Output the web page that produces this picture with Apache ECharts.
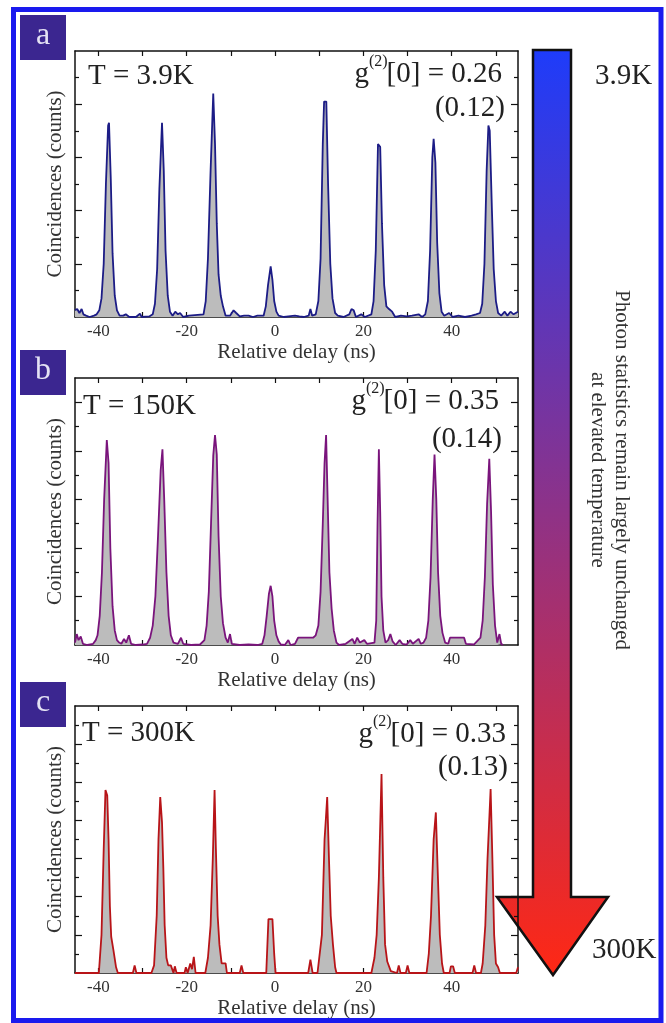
<!DOCTYPE html>
<html>
<head>
<meta charset="utf-8">
<script src="https://cdn.jsdelivr.net/npm/echarts@6/dist/echarts.min.js"></script>
<style>
  html, body { margin: 0; padding: 0; background: #fff; }
  #chart { width: 666px; height: 1023px; }
</style>
</head>
<body>
<div id="chart"></div>
<script>
// ---- data (delay in ns, coincidences in arbitrary tick units) ----
const delayA = [-45.3,-44.8,-44.3,-43.8,-43.4,-42.8,-42.0,-41.0,-40.4,
  -39.8,-39.3,-38.8,-38.3,-37.8,-37.6,-37.2,-36.8,-36.3,-35.8,-35.2,
  -34.4,-33.8,-33.0,-31.5,-30.6,-30.2,-28.5,
  -27.7,-27.2,-26.7,-26.2,-25.6,-25.2,-24.8,-24.3,-23.8,-23.2,
  -22.6,-22.0,-21.5,-20.8,-19.5,
  -16.2,-15.7,-15.2,-14.6,-14.0,-13.6,-13.2,-12.8,-12.3,-11.8,-11.2,
  -10.2,-9.4,-8.8,-8.0,-7.0,-6.0,-5.0,-4.0,
  -2.6,-2.1,-1.6,-1.0,-0.6,-0.2,0.3,0.8,
  2.0,3.0,4.5,5.5,6.5,7.6,8.0,8.4,
  9.2,9.8,10.3,10.8,11.1,11.6,12.0,12.5,13.0,13.6,14.2,
  15.5,16.8,17.3,17.8,18.3,19.5,20.3,
  21.8,22.3,22.8,23.3,23.8,24.2,24.7,25.2,25.8,26.5,27.2,
  28.5,29.8,31.0,32.5,33.3,
  34.0,34.6,35.1,35.6,35.9,36.3,36.7,37.2,37.7,38.3,
  39.4,40.2,41.5,43.0,44.5,45.5,
  46.4,46.9,47.4,47.9,48.3,48.6,49.1,49.5,50.0,50.5,51.2,
  52.0,52.6,53.3,54.0,55.0];
const countsA = [0.25,0.3,0.15,0.3,0.1,0.05,0.0,0.05,0.1,
  0.25,0.7,2.0,5.0,7.2,7.3,5.2,2.4,0.8,0.25,0.05,
  0.05,0.1,0.0,0.0,0.12,0.0,0.02,
  0.1,0.5,1.8,4.8,7.3,5.5,2.5,0.8,0.2,0.05,
  0.2,0.1,0.15,0.0,0.05,
  0.1,0.6,2.2,5.5,8.4,6.5,3.5,1.6,0.8,0.4,0.05,
  0.05,0.25,0.15,0.02,0.05,0.05,0.0,0.05,
  0.05,0.4,1.2,1.9,1.4,0.6,0.2,0.05,
  0.0,0.02,0.05,0.02,0.0,0.05,0.3,0.05,
  0.1,0.6,2.2,6.5,8.1,8.1,5.0,2.0,0.7,0.15,0.05,
  0.0,0.1,0.3,0.25,0.0,0.1,0.0,
  0.1,0.6,2.5,6.5,6.4,3.5,1.2,0.4,0.3,0.2,0.0,
  0.05,0.02,0.05,0.1,0.0,
  0.1,0.6,2.5,6.0,6.7,5.8,2.8,0.9,0.2,0.05,
  0.15,0.0,0.05,0.0,0.05,0.1,
  0.15,0.5,2.0,5.5,7.2,7.0,4.0,1.8,0.6,0.15,0.05,
  0.2,0.05,0.2,0.1,0.2];

const delayB = [-45.3,-44.9,-44.5,-44.0,-43.5,-42.5,-41.2,-40.6,
  -40.2,-39.7,-39.2,-38.7,-38.1,-37.7,-37.3,-36.8,-36.3,-35.8,-35.3,-34.8,-34.2,-33.7,-33.1,-32.6,-31.5,-30.0,-29.0,
  -28.3,-27.7,-27.1,-26.5,-25.9,-25.5,-25.1,-24.6,-24.1,-23.6,-23.0,-22.0,-21.3,-20.8,-19.0,-17.0,
  -16.0,-15.5,-15.0,-14.5,-14.0,-13.6,-13.2,-12.8,-12.3,-11.8,-11.2,-10.7,-10.2,-9.8,-8.0,-6.0,-4.0,
  -2.9,-2.4,-1.9,-1.4,-1.0,-0.6,-0.2,0.3,0.8,1.3,2.2,3.0,3.5,4.5,5.2,8.6,9.2,
  9.8,10.3,10.8,11.2,11.55,11.9,12.3,12.8,13.3,13.9,14.5,16.0,17.5,18.0,18.6,19.2,20.2,20.8,
  22.5,22.9,23.2,23.5,23.8,24.1,24.5,25.0,25.6,26.1,26.6,27.3,28.2,28.8,29.8,30.6,31.2,32.5,33.0,33.6,
  34.2,34.7,35.2,35.7,36.1,36.5,36.9,37.4,37.9,38.5,39.2,39.6,41.0,42.8,43.2,45.0,
  46.5,47.0,47.5,48.0,48.5,48.9,49.3,49.8,50.3,50.8,51.2,51.6];
const countsB = [0.1,0.45,0.2,0.35,0.05,0.0,0.05,0.2,
  0.4,1.2,3.0,6.0,8.44,7.5,4.0,1.6,0.6,0.2,0.1,0.05,0.25,0.1,0.4,0.05,0.0,0.02,0.05,
  0.3,0.8,2.0,4.5,7.2,8.06,6.0,3.0,1.2,0.4,0.1,0.05,0.3,0.05,0.0,0.02,
  0.2,0.8,2.2,5.0,7.8,8.65,7.85,4.5,2.0,0.9,0.3,0.1,0.45,0.05,0.0,0.02,0.0,
  0.05,0.4,1.2,2.1,2.44,2.0,1.0,0.4,0.15,0.02,0.0,0.2,0.0,0.05,0.3,0.3,0.4,
  0.8,2.2,5.0,7.5,8.65,6.0,3.0,1.5,0.6,0.1,0.0,0.05,0.25,0.05,0.3,0.1,0.2,0.05,
  0.1,1.0,5.0,8.06,5.5,2.0,0.6,0.1,0.2,0.45,0.15,0.0,0.2,0.05,0.02,0.2,0.05,0.25,0.05,0.1,
  0.3,1.0,2.8,6.0,7.85,6.0,3.0,1.2,0.5,0.1,0.05,0.3,0.3,0.3,0.05,0.02,
  0.3,1.0,2.8,5.8,7.67,5.5,2.5,0.8,0.1,0.45,0.05,0.0];

const delayC = [-45.3,-40.6,
  -39.9,-39.3,-38.8,-38.4,-38.0,-37.7,-37.4,-37.1,-36.6,-36.0,-35.6,
  -32.2,-31.8,-31.4,
  -28.0,-27.4,-26.8,-26.4,-26.0,-25.6,-25.3,-25.0,-24.6,-24.2,-23.6,-23.0,-22.7,-22.3,-20.5,-20.2,-19.8,-19.2,-18.8,-18.4,-18.0,
  -15.8,-15.2,-14.6,-14.1,-13.7,-13.4,-13.0,-12.6,-12.1,-11.2,-10.9,-8.0,-7.6,-7.2,
  -2.0,-1.5,-0.6,-0.2,0.1,
  7.5,8.0,8.5,
  9.6,10.2,10.6,11.2,11.45,11.8,12.2,12.6,13.1,13.6,13.9,
  21.8,22.5,23.0,23.5,24.1,24.5,24.9,25.4,26.2,26.6,
  27.6,28.0,28.4,29.6,30.0,30.4,
  34.3,34.8,35.3,35.9,36.4,36.8,37.3,37.8,38.2,39.5,39.8,40.3,40.7,
  44.7,45.1,45.5,
  46.6,47.0,47.6,48.1,48.8,49.2,49.6,50.0,50.5,50.9,54.6,55.0];
const countsC = [0,0,
  0,2.0,6.5,9.6,9.3,7.0,3.5,1.9,1.2,0.3,0,
  0,0.4,0,
  0,0.4,3.0,7.0,9.23,7.9,5.5,2.5,0.8,0.4,0.4,0,0.35,0,0,0.3,0,0.5,0.2,0.85,0,
  0,0.8,2.5,6.0,9.6,6.5,3.0,1.5,0.5,0.5,0,0,0.4,0,
  0,2.83,2.83,1.0,0,
  0,0.7,0,
  0,1.2,2.0,7.0,7.9,9.23,6.0,3.0,1.5,0.3,0,
  0,0.8,2.0,5.0,10.43,5.0,1.5,0.6,0.1,0,
  0,0.4,0,0,0.4,0,
  0,1.0,3.0,7.0,8.42,5.5,2.0,0.5,0,0,0.35,0.35,0,
  0,0.4,0,
  0,0.5,2.5,6.0,9.65,6.0,2.0,0.5,0.3,0,0,0.3];

// axes
const X_MIN = -45.3, X_MAX = 55;
const xTicks = [-40, -30, -20, -10, 0, 10, 20, 30, 40, 50];
const xLabels = [-40, -20, 0, 20, 40];
const yMaxes = [10, 11, 14];
const yMajor = [[2, 4, 6, 8], [2, 4, 6, 8, 10], [2, 4, 6, 8, 10, 12]];
const yMinor = [[1, 3, 5, 7, 9], [1, 3, 5, 7, 9], [1, 3, 5, 7, 9, 11, 13]];

// annotations
const temps = ['T = 3.9K', 'T = 150K', 'T = 300K'];
const g2 = ['[0] = 0.26', '[0] = 0.35', '[0] = 0.33'];
const g2err = ['(0.12)', '(0.14)', '(0.13)'];
const panelTags = ['a', 'b', 'c'];

const SERIF = '"Liberation Serif", "DejaVu Serif", serif';
const INK = '#111';
const TXT = '#333';

const panels = [
  { top: 51, height: 266, delay: delayA, counts: countsA, color: '#1c1c86',
    tBase: 85, tX: 88, gRight: 502, gBase: 83, eRight: 505, eBase: 117, box: 15 },
  { top: 378, height: 267, delay: delayB, counts: countsB, color: '#7a147c',
    tBase: 415, tX: 83, gRight: 499, gBase: 410, eRight: 502, eBase: 448, box: 350 },
  { top: 706, height: 267, delay: delayC, counts: countsC, color: '#b81418',
    tBase: 742, tX: 82, gRight: 506, gBase: 743, eRight: 508, eBase: 776, box: 682 }
];

const ctx = document.createElement('canvas').getContext('2d');
function textW(s, size) {
  ctx.font = size + 'px ' + SERIF;
  return ctx.measureText(s).width;
}
// baseline -> 'middle' anchor for serif text
const mid = (base, size) => base - size * 0.3;

const grid = [], xAxis = [], yAxis = [], series = [], graphic = [];

panels.forEach((p, i) => {
  grid.push({ left: 75, top: p.top, width: 443, height: p.height });

  const xBase = {
    gridIndex: i, type: 'value', min: X_MIN, max: X_MAX,
    splitLine: { show: false },
    axisLine: { onZero: false, lineStyle: { color: INK, width: 1.5 } },
    axisTick: { inside: true, length: 5, customValues: xTicks, lineStyle: { color: INK, width: 1.2 } }
  };
  xAxis.push(Object.assign({}, xBase, {
    position: 'bottom',
    axisLabel: { customValues: xLabels, margin: 6, fontFamily: SERIF, fontSize: 17, color: TXT },
    name: 'Relative delay (ns)', nameLocation: 'middle', nameGap: 25,
    nameTextStyle: { fontFamily: SERIF, fontSize: 21, color: TXT }
  }));
  xAxis.push(Object.assign({}, xBase, { position: 'top', axisLabel: { show: false } }));

  const yBase = {
    gridIndex: i, type: 'value', min: 0, max: yMaxes[i],
    splitLine: { show: false }, axisLabel: { show: false }
  };
  const yAx = (pos, vals, len, line) => Object.assign({}, yBase, {
    position: pos,
    axisLine: { show: line, onZero: false, lineStyle: { color: INK, width: 1.5 } },
    axisTick: { inside: true, length: len, customValues: vals, lineStyle: { color: INK, width: 1.2 } }
  });
  const left = yAx('left', yMajor[i], 7, true);
  left.name = 'Coincidences (counts)';
  left.nameLocation = 'middle';
  left.nameGap = 9;
  left.nameTextStyle = { fontFamily: SERIF, fontSize: 21, color: TXT };
  yAxis.push(left, yAx('left', yMinor[i], 4, false), yAx('right', yMajor[i], 7, true), yAx('right', yMinor[i], 4, false));

  series.push({
    type: 'line', xAxisIndex: 2 * i, yAxisIndex: 4 * i,
    data: p.delay.map((d, k) => [d, p.counts[k]]),
    showSymbol: false, smooth: false,
    lineStyle: { color: p.color, width: 1.8 },
    areaStyle: { color: '#bcbcbc', opacity: 1 },
    z: 3
  });

  // panel tag
  graphic.push({ type: 'rect', shape: { x: 20, y: p.box, width: 46, height: 45 }, style: { fill: '#3b2690' }, z: 10 });
  graphic.push({ type: 'text', x: 43, y: p.box + 21, z: 11,
    style: { text: panelTags[i], font: '32px ' + SERIF, fill: '#e4e2f4', align: 'center', verticalAlign: 'middle' } });

  // temperature
  graphic.push({ type: 'text', x: p.tX, y: mid(p.tBase, 29), z: 11,
    style: { text: temps[i], font: '29px ' + SERIF, fill: '#222', align: 'left', verticalAlign: 'middle' } });
  // g(2)[0] = ...
  const w1 = textW(g2[i], 29), w2 = textW('(2)', 16);
  graphic.push({ type: 'text', x: p.gRight, y: mid(p.gBase, 29), z: 11,
    style: { text: g2[i], font: '29px ' + SERIF, fill: '#222', align: 'right', verticalAlign: 'middle' } });
  graphic.push({ type: 'text', x: p.gRight - w1 + 1, y: mid(p.gBase - 16, 16), z: 11,
    style: { text: '(2)', font: '16px ' + SERIF, fill: '#222', align: 'right', verticalAlign: 'middle' } });
  graphic.push({ type: 'text', x: p.gRight - w1 - w2 + 1, y: mid(p.gBase, 29), z: 11,
    style: { text: 'g', font: '29px ' + SERIF, fill: '#222', align: 'right', verticalAlign: 'middle' } });
  graphic.push({ type: 'text', x: p.eRight, y: mid(p.eBase, 29), z: 11,
    style: { text: g2err[i], font: '29px ' + SERIF, fill: '#222', align: 'right', verticalAlign: 'middle' } });
});

// temperature arrow
graphic.push({
  type: 'polygon', z: -1,
  shape: { points: [[533, 50], [571, 50], [571, 897], [608, 897], [553, 975], [497, 897], [533, 897]] },
  style: {
    fill: new echarts.graphic.LinearGradient(0, 0, 0, 1, [
      { offset: 0, color: '#1e3cfa' },
      { offset: 1, color: '#ff2814' }
    ]),
    stroke: '#111', lineWidth: 2.5, lineJoin: 'miter'
  }
});
graphic.push({ type: 'text', x: 595, y: mid(85, 29), z: 11,
  style: { text: '3.9K', font: '29px ' + SERIF, fill: '#222', align: 'left', verticalAlign: 'middle' } });
graphic.push({ type: 'text', x: 592, y: mid(959, 29), z: 11,
  style: { text: '300K', font: '29px ' + SERIF, fill: '#222', align: 'left', verticalAlign: 'middle' } });
graphic.push({ type: 'text', x: 610, y: 470, rotation: -Math.PI / 2, z: 11,
  style: { text: 'Photon statistics remain largely unchanged\nat elevated temperature',
    font: '21px ' + SERIF, lineHeight: 24, fill: '#333', align: 'center', verticalAlign: 'middle' } });

// outer frame
graphic.push({ type: 'rect', z: 12, shape: { x: 13.5, y: 9.5, width: 647.5, height: 1011 },
  style: { fill: 'none', stroke: '#1a1aee', lineWidth: 5 } });

const chart = echarts.init(document.getElementById('chart'), null, { renderer: 'canvas' });
chart.setOption({
  animation: false,
  backgroundColor: '#fff',
  grid, xAxis, yAxis, series, graphic
});
</script>
</body>
</html>
